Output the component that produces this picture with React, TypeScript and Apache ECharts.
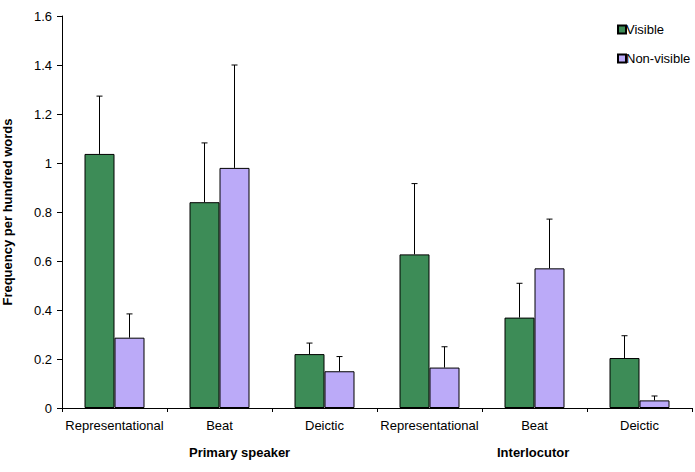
import React, { useEffect, useRef } from "react";
import * as echarts from "echarts";

const categories = ["Representational", "Beat", "Deictic", "Representational", "Beat", "Deictic"];
const groups = ["Primary speaker", "Interlocutor"];
const visible = [1.037, 0.84, 0.22, 0.627, 0.369, 0.204];
const visibleErr = [1.273, 1.082, 0.265, 0.916, 0.509, 0.295];
const nonVisible = [0.287, 0.98, 0.15, 0.165, 0.57, 0.031];
const nonVisibleErr = [0.384, 1.4, 0.21, 0.25, 0.771, 0.049];
const yTicks = [0, 0.2, 0.4, 0.6, 0.8, 1, 1.2, 1.4, 1.6];

const FONT = "Liberation Sans, Arial, sans-serif";
const GREEN = "#3d8c57";
const PURPLE = "#bbaaf8";

function errorSeries(name: string, vals: number[], errs: number[], offset: number) {
  return {
    type: "custom",
    name: name + " err",
    z: 5,
    silent: true,
    encode: { x: 0, y: [1, 2] },
    data: vals.map((v, i) => [i, v, errs[i]]),
    renderItem: (params: any, api: any) => {
      const base = api.coord([api.value(0), api.value(1)]);
      const top = api.coord([api.value(0), api.value(2)]);
      const x = base[0] + offset;
      const style = { stroke: "#000", lineWidth: 1 };
      return {
        type: "group",
        children: [
          { type: "line", shape: { x1: x, y1: base[1], x2: x, y2: top[1] }, style },
          { type: "line", shape: { x1: x - 3, y1: top[1], x2: x + 3, y2: top[1] }, style },
        ],
      };
    },
  };
}

export default function App() {
  const ref = useRef<HTMLDivElement>(null);
  useEffect(() => {
    if (!ref.current) return;
    const chart = echarts.init(ref.current, null, { renderer: "svg" });
    const left = 62;
    const right = 692;
    chart.setOption({
      animation: false,
      textStyle: { fontFamily: FONT },
      grid: {
        left: left,
        right: 695 - right,
        top: 16,
        bottom: 64,
        containLabel: false,
        outerBoundsMode: "none",
      },
      legend: {
        orient: "vertical",
        left: 612,
        top: 18,
        itemWidth: 8,
        itemHeight: 8,
        itemGap: 16,
        icon: "rect",
        data: ["Visible", "Non-visible"],
        textStyle: { fontFamily: FONT, fontSize: 13, color: "#000", padding: [0, 0, 0, -5] },
      },
      xAxis: {
        type: "category",
        data: categories,
        axisLine: { lineStyle: { color: "#000", width: 1 } },
        axisTick: { show: true, alignWithLabel: false, length: 4, lineStyle: { color: "#000" } },
        axisLabel: { color: "#000", fontSize: 13, fontFamily: FONT, margin: 11, interval: 0 },
      },
      yAxis: {
        type: "value",
        min: 0,
        max: 1.6,
        interval: 0.2,
        name: "Frequency per hundred words",
        nameLocation: "middle",
        nameGap: 48,
        nameTextStyle: { fontWeight: "bold", fontSize: 13, color: "#000", fontFamily: FONT },
        splitLine: { show: false },
        axisLine: { show: true, lineStyle: { color: "#000", width: 1 } },
        axisTick: { show: true, length: 5, lineStyle: { color: "#000" } },
        axisLabel: {
          color: "#000",
          fontSize: 13,
          fontFamily: FONT,
          margin: 10,
          formatter: (v: number) => (yTicks.includes(Math.round(v * 10) / 10) ? String(Math.round(v * 10) / 10) : ""),
        },
      },
      graphic: groups.map((g, i) => ({
        type: "text",
        left: i === 0 ? 189 : 497,
        top: 446,
        style: { text: g, font: "bold 13px " + FONT, fill: "#000" },
      })),
      series: [
        {
          name: "Visible",
          type: "bar",
          data: visible,
          barWidth: 30,
          barGap: "0%",
          itemStyle: { color: GREEN, borderColor: "#000", borderWidth: 1 },
        },
        {
          name: "Non-visible",
          type: "bar",
          data: nonVisible,
          barWidth: 30,
          barGap: "0%",
          itemStyle: { color: PURPLE, borderColor: "#000", borderWidth: 1 },
        },
        errorSeries("Visible", visible, visibleErr, -15),
        errorSeries("Non-visible", nonVisible, nonVisibleErr, 15),
      ],
    });
    return () => chart.dispose();
  }, []);
  return <div ref={ref} style={{ width: 695, height: 472, position: "absolute", left: 0, top: 0 }} />;
}
